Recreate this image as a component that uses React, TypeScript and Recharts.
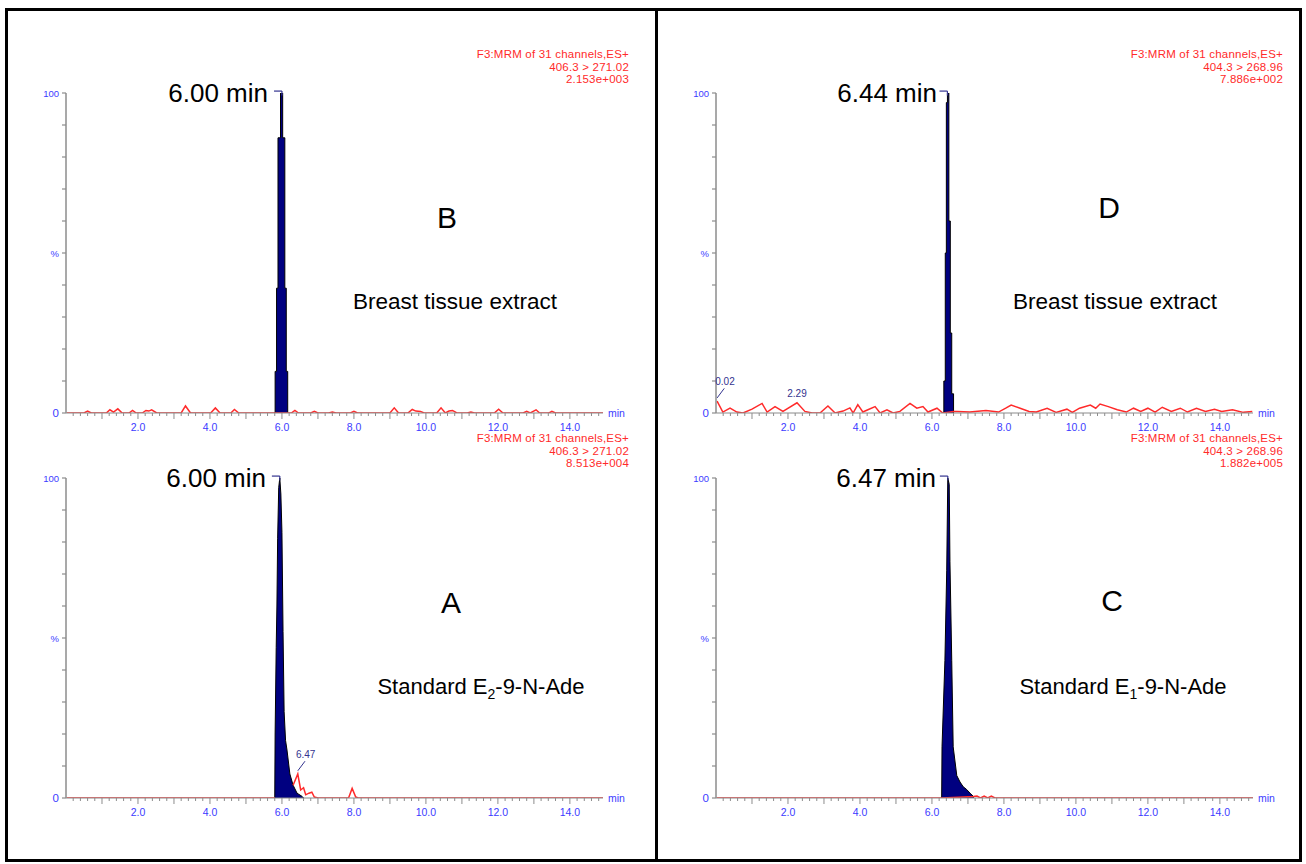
import React from "react";
import {
  ComposedChart,
  Line,
  Area,
  XAxis,
  YAxis,
  ReferenceLine,
  ReferenceDot,
} from "recharts";

// retention time axis, minutes
const X_DOMAIN: [number, number] = [0, 14.92];
const xTickLabels = [2, 4, 6, 8, 10, 12, 14];
const xMinorTicks = Array.from({ length: 74 }, (_, i) => +(0.2 * (i + 1)).toFixed(1));
const yTicks = [0, 10, 20, 30, 40, 50, 60, 70, 80, 90, 100];

// B: breast tissue extract, 406.3 > 271.02
const bTraceTimes = [0.02, 0.5, 0.6, 0.7, 1.12, 1.22, 1.32, 1.44, 1.56, 1.75, 1.85, 1.95, 2.12, 2.22, 2.3, 2.38, 2.52, 3.2, 3.32, 3.46, 4.02, 4.15, 4.28, 4.58, 4.68, 4.8, 5.78, 6.14, 6.26, 6.36, 6.46, 6.8, 6.9, 7.0, 7.3, 7.4, 7.5, 7.9, 8.0, 8.1, 9.0, 9.12, 9.24, 9.5, 9.62, 9.72, 9.85, 9.95, 10.3, 10.42, 10.54, 10.64, 10.74, 10.86, 11.15, 11.25, 11.35, 11.9, 12.02, 12.14, 12.7, 12.8, 12.9, 12.98, 13.06, 13.16, 13.42, 13.5, 13.6, 14.92];
const bTraceValues = [0, 0, 0.6, 0, 0, 1.0, 0.3, 1.3, 0, 0, 0.8, 0, 0, 0.8, 0.6, 1.0, 0, 0, 2.2, 0, 0, 1.6, 0, 0, 1.1, 0, 0, 0, 0, 0.8, 0, 0, 0.5, 0, 0, 0.3, 0, 0, 0.5, 0, 0, 1.6, 0, 0, 1.1, 0.6, 0.5, 0, 0, 1.6, 0, 0.6, 0.8, 0, 0, 0.3, 0, 0, 1.2, 0, 0, 0.5, 0, 0.5, 1.0, 0, 0, 0.5, 0, 0];
const bPeakTimes = [5.78, 5.81, 5.85, 5.89, 5.96, 6.02, 6.08, 6.12, 6.16];
const bPeakValues = [0, 13, 39, 86, 100, 86, 39, 13, 0];

// A: standard E2-9-N-Ade, 406.3 > 271.02 (null = trace hidden under the integrated peak)
const aTraceTimes = [0.02, 5.8, 5.9, 6.31, 6.44, 6.52, 6.6, 6.66, 6.75, 6.83, 6.9, 7.0, 7.85, 7.95, 8.05, 8.12, 14.92];
const aTraceValues = [0, 0, null, 4.0, 7.5, 2.5, 3.2, 1.0, 1.5, 1.8, 0.3, 0, 0, 3.0, 0.3, 0, 0];
const aPeakTimes = [5.8, 5.81, 5.84, 5.86, 5.88, 5.91, 5.94, 5.97, 6.0, 6.03, 6.06, 6.1, 6.14, 6.22, 6.31, 6.42, 6.56, 6.6];
const aPeakValues = [0, 20, 47, 60, 81, 97, 100, 95, 83, 52, 27, 18, 15, 7.5, 4, 1.5, 0.5, 0];

// D: breast tissue extract, 404.3 > 268.96
const dTraceTimes = [0.03, 0.19, 0.39, 0.58, 0.75, 1.0, 1.28, 1.42, 1.64, 1.86, 2.25, 2.47, 2.67, 2.89, 3.11, 3.31, 3.53, 3.72, 3.81, 3.94, 4.08, 4.22, 4.42, 4.56, 4.75, 4.92, 5.11, 5.39, 5.58, 5.75, 5.89, 6.14, 6.3, 6.6, 6.7, 7.05, 7.5, 7.85, 8.05, 8.2, 8.45, 8.7, 8.9, 9.2, 9.45, 9.75, 9.9, 10.1, 10.4, 10.55, 10.67, 10.9, 11.15, 11.4, 11.6, 11.8, 12.0, 12.2, 12.4, 12.65, 12.9, 13.1, 13.35, 13.6, 13.85, 14.05, 14.35, 14.65, 14.9];
const dTraceValues = [3.7, 0.3, 1.5, 0.3, 0, 1.2, 3.0, 0.3, 2.0, 0.5, 3.2, 0.5, 0, 0, 2.2, 0, 0.6, 1.6, 0, 2.6, 0.3, 1.0, 2.0, 0, 1.0, 0, 0.5, 3.0, 1.5, 2.0, 0.3, 1.5, 0, 0.5, 0.5, 0.3, 0.8, 0.3, 1.5, 2.5, 1.5, 0.5, 0.3, 1.5, 0.2, 1.2, 0.2, 1.5, 2.5, 1.5, 2.8, 2.0, 1.0, 0.3, 1.5, 0.5, 1.5, 0.3, 1.8, 0.5, 1.5, 0.3, 1.5, 0.5, 1.2, 0.5, 1.0, 0.2, 0.5];
const dPeakTimes = [6.3, 6.33, 6.37, 6.4, 6.43, 6.47, 6.51, 6.55, 6.6];
const dPeakValues = [0, 10, 50, 97, 100, 60, 25, 6, 0];

// C: standard E1-9-N-Ade, 404.3 > 268.96
const cTraceTimes = [0.02, 6.28, 7.15, 7.25, 7.35, 7.45, 7.55, 7.65, 7.75, 7.85, 14.92];
const cTraceValues = [0, 0, 0.5, 0.6, 0, 0.6, 0, 0.6, 0, 0, 0];
const cPeakTimes = [6.27, 6.28, 6.36, 6.41, 6.44, 6.48, 6.5, 6.55, 6.59, 6.69, 6.78, 6.87, 6.96, 7.06, 7.15, 7.16];
const cPeakValues = [0, 16, 43, 71, 100, 98, 74, 43, 16, 7, 5, 3.5, 2.7, 1.5, 0.5, 0];

const toPoints = (t: number[], v: (number | null)[]) => t.map((x, i) => ({ t: x, v: v[i] }));

const FONT = "Arial, 'Liberation Sans', sans-serif";
const AXIS_GREY = "#8c8c8c";
const TICK_BLUE = "#3b3bff";
const NOTE_BLUE = "#33338f";
const TRACE_RED = "#ff2a2a";

const XTick = (props: any) => {
  const { x, y, payload } = props;
  const v = payload.value;
  const whole = Math.abs(v - Math.round(v)) < 0.01;
  const labelled = whole && xTickLabels.includes(Math.round(v));
  return (
    <g>
      <line x1={x} x2={x} y1={y} y2={y + (whole ? 6 : 3)} stroke={AXIS_GREY} strokeWidth={1} />
      {labelled && (
        <text x={x} y={y + 18} textAnchor="middle" fill={TICK_BLUE} fontSize={10.5} fontFamily={FONT}>
          {v.toFixed(1)}
        </text>
      )}
    </g>
  );
};

const YTick = (props: any) => {
  const { x, y, payload } = props;
  const v = payload.value;
  const label = v === 100 ? "100" : v === 50 ? "%" : v === 0 ? "0" : null;
  return (
    <g>
      <line x1={x - 4} x2={x} y1={y} y2={y} stroke={AXIS_GREY} strokeWidth={1.2} />
      {label && (
        <text x={x - 7} y={y + 3.5} textAnchor="end" fill={TICK_BLUE} fontSize={v === 0 ? 11.5 : 9.5} fontFamily={FONT}>
          {label}
        </text>
      )}
    </g>
  );
};

type Note = { t: number; v: number; text: string; lead?: boolean };

type ChromProps = {
  left: number;
  top: number;
  trace: { t: number; v: number | null }[];
  peak: { t: number; v: number | null }[];
  stepped: boolean;
  apex: number;
  notes: Note[];
};

const Chromatogram = ({ left, top, trace, peak, stepped, apex, notes }: ChromProps) => (
  <div style={{ position: "absolute", left, top }}>
    <ComposedChart width={640} height={430} margin={{ top: 73, right: 47, bottom: 7, left: 16 }}>
      <XAxis
        type="number"
        dataKey="t"
        domain={X_DOMAIN}
        allowDataOverflow
        ticks={xMinorTicks}
        interval={0}
        tick={<XTick />}
        tickLine={false}
        tickSize={0}
        tickMargin={0}
        height={30}
        axisLine={{ stroke: AXIS_GREY, strokeWidth: 1.2 }}
      />
      <YAxis
        type="number"
        dataKey="v"
        domain={[0, 100]}
        allowDataOverflow
        ticks={yTicks}
        interval={0}
        tick={<YTick />}
        tickLine={false}
        tickSize={0}
        tickMargin={0}
        width={40}
        axisLine={{ stroke: AXIS_GREY, strokeWidth: 1.5 }}
      />
      <Line
        data={trace}
        dataKey="v"
        type="linear"
        stroke={TRACE_RED}
        strokeWidth={1.5}
        dot={false}
        connectNulls={false}
        isAnimationActive={false}
      />
      <Area
        data={peak}
        dataKey="v"
        type={stepped ? "stepAfter" : "linear"}
        baseValue={0}
        fill="#000080"
        fillOpacity={1}
        stroke="#000000"
        strokeWidth={1}
        dot={false}
        activeDot={false}
        isAnimationActive={false}
      />
      <ReferenceLine
        segment={[{ x: apex - 0.22, y: 100.6 }, { x: apex, y: 100.6 }]}
        stroke={NOTE_BLUE}
        strokeWidth={1.2}
        ifOverflow="visible"
      />
      <ReferenceLine
        segment={[{ x: apex, y: 100.6 }, { x: apex, y: 99.2 }]}
        stroke={NOTE_BLUE}
        strokeWidth={1.2}
        ifOverflow="visible"
      />
      {notes.map((n, i) =>
        n.lead ? (
          <ReferenceLine
            key={`lead-${i}`}
            segment={[{ x: n.t, y: n.v + 1 }, { x: n.t + 0.2, y: n.v + 4 }]}
            stroke={NOTE_BLUE}
            strokeWidth={1}
            ifOverflow="visible"
          />
        ) : null
      )}
      {notes.map((n, i) => (
        <ReferenceDot
          key={`note-${i}`}
          x={n.lead ? n.t + 0.22 : n.t}
          y={n.lead ? n.v + 4 : n.v + 1}
          r={0}
          ifOverflow="visible"
          label={{ value: n.text, position: "top", offset: 3, fill: NOTE_BLUE, fontSize: 10, fontFamily: FONT }}
        />
      ))}
    </ComposedChart>
  </div>
);

const abs = (left: number, top: number, extra: React.CSSProperties = {}): React.CSSProperties => ({
  position: "absolute",
  left,
  top,
  whiteSpace: "nowrap",
  ...extra,
});

const Header = ({ right, top, lines }: { right: number; top: number; lines: string[] }) => (
  <div
    style={abs(right, top, {
      transform: "translateX(-100%)",
      textAlign: "right",
      color: TRACE_RED,
      fontSize: 11.5,
      lineHeight: "12.5px",
      letterSpacing: 0.2,
    })}
  >
    {lines.map((l) => (
      <div key={l}>{l}</div>
    ))}
  </div>
);

const Centered = ({ x, y, size, children }: { x: number; y: number; size: number; children: React.ReactNode }) => (
  <div style={abs(x, y, { transform: "translate(-50%, -50%)", fontSize: size, color: "#000" })}>{children}</div>
);

const RtLabel = ({ right, y, text }: { right: number; y: number; text: string }) => (
  <div style={abs(right, y, { transform: "translate(-100%, -50%)", fontSize: 26, color: "#000" })}>{text}</div>
);

const Unit = ({ x, y }: { x: number; y: number }) => (
  <div style={abs(x, y, { transform: "translateY(-50%)", fontSize: 10.5, color: TICK_BLUE })}>min</div>
);

export default function App() {
  return (
    <div
      style={{
        position: "absolute",
        left: 0,
        top: 0,
        width: 1306,
        height: 864,
        background: "#fff",
        fontFamily: FONT,
        overflow: "hidden",
      }}
    >
      {/* frames */}
      <div style={abs(5, 8, { width: 1297, height: 854, border: "3px solid #000", boxSizing: "border-box" })} />
      <div style={abs(655, 8, { width: 3, height: 854, background: "#000" })} />

      <Chromatogram
        left={10}
        top={20}
        trace={toPoints(bTraceTimes, bTraceValues)}
        peak={toPoints(bPeakTimes, bPeakValues)}
        stepped
        apex={6.0}
        notes={[]}
      />
      <Chromatogram
        left={10}
        top={405}
        trace={toPoints(aTraceTimes, aTraceValues)}
        peak={toPoints(aPeakTimes, aPeakValues)}
        stepped={false}
        apex={5.94}
        notes={[{ t: 6.44, v: 7.5, text: "6.47", lead: true }]}
      />
      <Chromatogram
        left={660}
        top={20}
        trace={toPoints(dTraceTimes, dTraceValues)}
        peak={toPoints(dPeakTimes, dPeakValues)}
        stepped
        apex={6.43}
        notes={[
          { t: 0.03, v: 3.7, text: "0.02", lead: true },
          { t: 2.25, v: 3.2, text: "2.29" },
        ]}
      />
      <Chromatogram
        left={660}
        top={405}
        trace={toPoints(cTraceTimes, cTraceValues)}
        peak={toPoints(cPeakTimes, cPeakValues)}
        stepped={false}
        apex={6.44}
        notes={[]}
      />

      <Header right={629} top={48} lines={["F3:MRM of 31 channels,ES+", "406.3 > 271.02", "2.153e+003"]} />
      <Header right={629} top={432} lines={["F3:MRM of 31 channels,ES+", "406.3 > 271.02", "8.513e+004"]} />
      <Header right={1283} top={48} lines={["F3:MRM of 31 channels,ES+", "404.3 > 268.96", "7.886e+002"]} />
      <Header right={1283} top={432} lines={["F3:MRM of 31 channels,ES+", "404.3 > 268.96", "1.882e+005"]} />

      <RtLabel right={268} y={93} text="6.00 min" />
      <RtLabel right={266} y={478} text="6.00 min" />
      <RtLabel right={937} y={93} text="6.44 min" />
      <RtLabel right={936} y={478} text="6.47 min" />

      <Unit x={608} y={413} />
      <Unit x={608} y={798} />
      <Unit x={1258} y={413} />
      <Unit x={1258} y={798} />

      <Centered x={447} y={218} size={30}>B</Centered>
      <Centered x={455} y={302} size={22.5}>Breast tissue extract</Centered>
      <Centered x={451} y={603} size={30}>A</Centered>
      <Centered x={481} y={688} size={22}>
        Standard E<sub style={{ fontSize: 14 }}>2</sub>-9-N-Ade
      </Centered>
      <Centered x={1109} y={208} size={30}>D</Centered>
      <Centered x={1115} y={302} size={22.5}>Breast tissue extract</Centered>
      <Centered x={1112} y={601} size={30}>C</Centered>
      <Centered x={1123} y={688} size={22}>
        Standard E<sub style={{ fontSize: 14 }}>1</sub>-9-N-Ade
      </Centered>
    </div>
  );
}
